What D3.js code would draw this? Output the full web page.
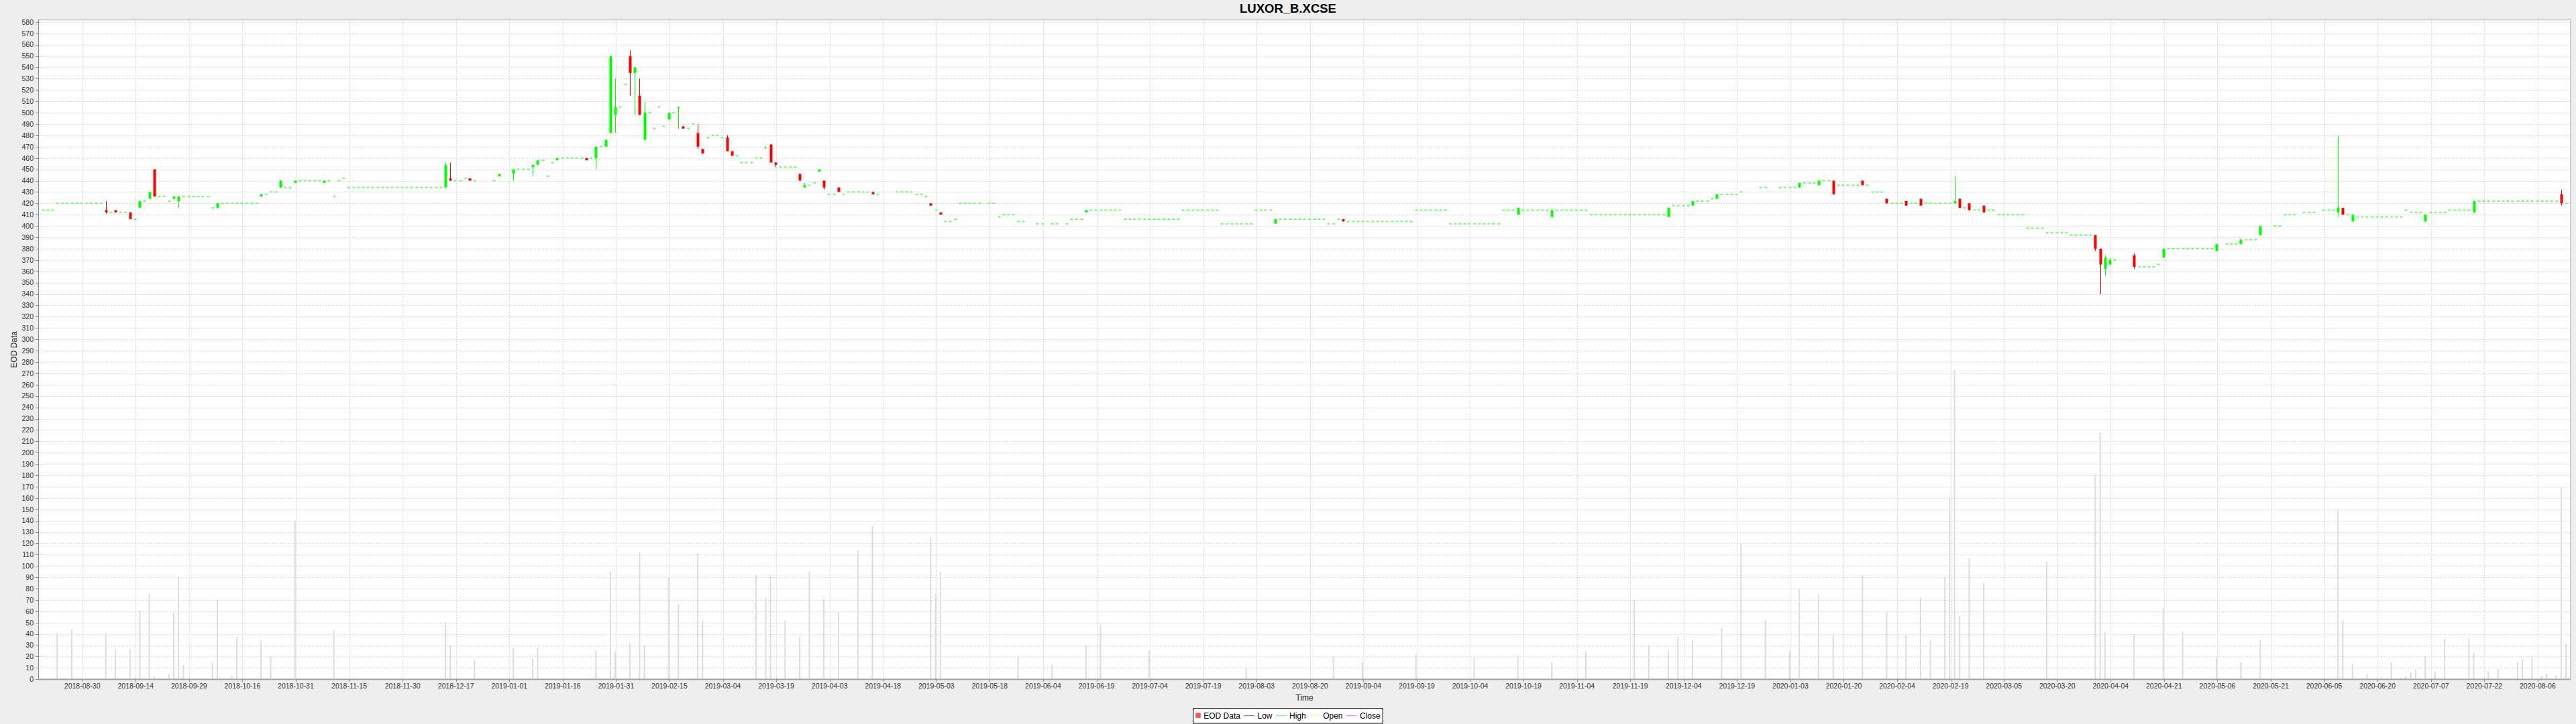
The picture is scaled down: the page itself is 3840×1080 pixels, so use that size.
<!DOCTYPE html>
<html><head><meta charset="utf-8">
<script src="https://cdn.jsdelivr.net/npm/d3@7"></script>
<style>
body{margin:0;background:#eeeeee;}
svg{display:block;font-family:"Liberation Sans",Arial,sans-serif;}
</style></head><body>
<svg id="c" width="3840" height="1080"></svg>
<script>
// ---------------- DATA ----------------
const chartTitle = "LUXOR_B.XCSE";
const startDate = "2018-08-20";           // weekday index 0 (Mon)
// closing price per weekday (Mon..Fri), null = exchange closed
const closes = [
/*2018-08-20*/ 414,414,414,420,420,
/*08-27*/ 420,420,420,420,420,
/*09-03*/ 420,420,420,412,412,
/*09-10*/ 412,412,412,406,406,
/*09-17*/ 422,422,430,426,426,
/*09-24*/ 426,422,426,426,426,
/*10-01*/ 426,426,426,426,426,
/*10-08*/ 416,420,420,420,420,
/*10-15*/ 420,420,420,420,420,
/*10-22*/ 428,428,430,430,440,
/*10-29*/ 434,434,440,440,440,
/*11-05*/ 440,440,440,440,440,
/*11-12*/ 426,440,442,434,434,
/*11-19*/ 434,434,434,434,434,
/*11-26*/ 434,434,434,434,434,
/*12-03*/ 434,434,434,434,434,
/*12-10*/ 434,434,434,454,440,
/*12-17*/ 440,440,442,440,440,
/*12-24*/ null,null,null,440,446,
/*12-31*/ null,null,450,450,450,
/*2019-01-07*/ 450,454,458,458,444,
/*01-14*/ 456,460,460,460,460,
/*01-21*/ 460,460,458,460,470,
/*01-28*/ 470,476,550,505,505,
/*02-04*/ 525,535,540,498,500,
/*02-11*/ 500,486,505,488,500,
/*02-18*/ 500,505,486,486,490,
/*02-25*/ 470,464,478,480,480,
/*03-04*/ 478,466,462,462,456,
/*03-11*/ 456,456,460,460,470,
/*03-18*/ 456,454,452,452,452,
/*03-25*/ 452,440,436,436,438,
/*04-01*/ 450,434,428,428,430,
/*04-08*/ 428,430,430,430,430,
/*04-15*/ 430,428,428,null,null,
/*04-22*/ null,430,430,430,430,
/*04-29*/ 428,428,426,418,414,
/*05-06*/ 410,404,404,406,420,
/*05-13*/ 420,420,420,420,null,
/*05-20*/ 420,420,408,410,410,
/*05-27*/ 410,404,404,null,null,
/*06-03*/ 402,402,null,402,402,
/*06-10*/ null,402,406,406,406,
/*06-17*/ 414,414,414,414,414,
/*06-24*/ 414,414,414,406,406,
/*07-01*/ 406,406,406,406,406,
/*07-08*/ 406,406,406,406,406,
/*07-15*/ 414,414,414,414,414,
/*07-22*/ 414,414,414,402,402,
/*07-29*/ 402,402,402,402,402,
/*08-05*/ 414,414,414,414,406,
/*08-12*/ 406,406,406,406,406,
/*08-19*/ 406,406,406,406,406,
/*08-26*/ 402,402,406,404,404,
/*09-02*/ 404,404,404,404,404,
/*09-09*/ 404,404,404,404,404,
/*09-16*/ 404,404,404,414,414,
/*09-23*/ 414,414,414,414,414,
/*09-30*/ 402,402,402,402,402,
/*10-07*/ 402,402,402,402,402,
/*10-14*/ 402,414,414,414,416,
/*10-21*/ 414,414,414,414,414,
/*10-28*/ 414,414,414,414,414,
/*11-04*/ 414,414,414,414,410,
/*11-11*/ 410,410,410,410,410,
/*11-18*/ 410,410,410,410,410,
/*11-25*/ 410,410,410,410,410,
/*12-02*/ 416,418,418,418,418,
/*12-09*/ 422,422,422,422,424,
/*12-16*/ 428,428,428,428,428,
/*12-23*/ 430,null,null,null,434,
/*12-30*/ 434,null,null,434,434,
/*2020-01-06*/ 434,434,438,438,438,
/*01-13*/ 438,440,440,440,428,
/*01-20*/ 436,436,436,436,436,
/*01-27*/ 436,436,430,430,430,
/*02-03*/ 420,420,420,420,418,
/*02-10*/ 420,420,418,420,420,
/*02-17*/ 420,420,420,420,422,
/*02-24*/ 416,416,414,414,414,
/*03-02*/ 412,414,414,410,410,
/*03-09*/ 410,410,410,410,398,
/*03-16*/ 398,398,398,394,394,
/*03-23*/ 394,394,394,392,392,
/*03-30*/ 392,392,392,380,366,
/*04-06*/ 372,370,370,null,null,
/*04-13*/ null,364,364,364,364,
/*04-20*/ 364,366,380,380,380,
/*04-27*/ 380,380,380,380,380,
/*05-04*/ 380,380,380,384,null,
/*05-11*/ 384,384,384,388,388,
/*05-18*/ 388,388,400,null,null,
/*05-25*/ 400,400,410,410,410,
/*06-01*/ null,412,412,412,null,
/*06-08*/ 414,414,414,416,410,
/*06-15*/ 410,410,408,408,408,
/*06-22*/ 408,408,408,408,408,
/*06-29*/ 408,408,414,412,412,
/*07-06*/ 412,410,412,412,412,
/*07-13*/ 412,414,414,414,414,
/*07-20*/ 414,422,422,422,422,
/*07-27*/ 422,422,422,422,422,
/*08-03*/ 422,422,422,422,422,
/*08-10*/ 422,422,422,422,420,
/*08-17*/ 420
];
// [weekday index, open, high, low] for days that were not flat
const moves = [
[13,414,422,411],[15,414,414,412],[18,412,412,406],[20,416,422,416],[22,424,430,424],
[23,450,450,426],[27,424,426,424],[28,422,426,416],[36,416,420,416],[45,426,428,426],
[49,434,440,434],[52,438,440,438],[58,438,440,438],[83,434,456,434],[84,442,456,440],
[88,442,442,440],[94,444,446,444],[97,446,450,440],[101,452,454,444],[102,454,458,454],
[106,458,460,458],[112,460,460,458],[114,460,470,450],[116,470,476,470],[117,482,550,482],
[118,498,530,482],[121,550,555,515],[122,535,540,498],[123,515,530,498],[124,476,510,476],
[129,494,500,494],[131,504,505,486],[132,488,488,486],[135,482,490,468],[136,468,468,464],
[141,478,480,466],[142,466,466,462],[149,469.5,470,468],[150,472,472,456],[151,456,456,452],
[156,446,446,440],[157,434,438,434],[160,448,450,448],[161,440,440,432],[164,434,434,430],
[171,430,430,428],[183,420,420,418],[185,412,412,410],[215,412,414,412],[254,402,406,402],
[268,406,406,404],
[304,410,416,410],[311,408,414,408],[335,408,416,408],[340,418,422,418],[345,424,428,424],
[362,434,438,434],[366,436,440,436],[369,440,440,428],[375,440,440,436],[380,424,424,420],
[384,422,422,418],[387,424,424,418],[394,420,444,420],[395,424,424,416],[397,420,420,414],
[400,418,418,412],[423,392,392,378],[424,380,380,340],[425,362,374,356],[426,366,372,366],
[431,374,376,362],[437,372,380,372],[448,378,384,378],[453,384,388,384],[457,392,400,392],
[473,412,480,408],[474,416,416,410],[476,404,410,404],[491,404,410,404],[501,412,422,412],
[519,428,432,418]
];
// [weekday index, traded volume]
const volumes = [
[3,40.8],[6,44],[13,40.8],[15,26],[18,26.4],[20,60],[22,75],[23,2.4],[26,4.5],[27,58.6],
[28,91.3],[29,12.8],[35,15],[36,70.4],[39,3.4],[40,37],[45,34.3],[47,20],[52,140],[60,43],
[83,50],[84,30],[89,17],[97,28],[101,18],[102,28],[114,25],[117,95],[118,24],[121,32],
[123,112],[124,30],[129,90],[131,66],[135,111],[136,52],[147,92],[149,72],[150,92],[153,52],
[156,37],[158,95],[161,71],[164,60],[168,114],[171,135],[183,125],[184,75],[185,95],
[201,20],[208,13],[215,30],[218,48],[228,25],[248,10],[266,20],[272,15],[283,22],[295,20],
[304,20],[311,15],[318,25],[328,70],[331,30],[335,25],[337,37],[340,35],[346,45],[350,120],
[355,52],[360,25],[362,80],[366,75],[369,39],[375,92],[380,59],[384,39],[387,72],[389,34],
[392,90],[393,160],[394,273],[395,56],[397,107],[400,85],[413,104],[423,180],[424,218],
[425,42],[431,40],[437,63],[441,42],[448,20],[453,15],[457,35],[473,150],[474,52],
[476,13.4],[479,4.5],[482,2],[483,1],[484,14.8],[485,0.8],[486,1.2],[487,2.8],[488,6.1],
[489,9],[491,20.3],[493,6.9],[495,35.5],[500,35.5],[501,23.3],[504,6.9],[506,9.1],[510,15],
[511,17.8],[513,19.1],[515,3.2],[516,4.9],[518,3.6],[519,170],[520,31.6]
];
const xTickLabels = ["2018-08-30","2018-09-14","2018-09-29","2018-10-16","2018-10-31","2018-11-15",
"2018-11-30","2018-12-17","2019-01-01","2019-01-16","2019-01-31","2019-02-15","2019-03-04",
"2019-03-19","2019-04-03","2019-04-18","2019-05-03","2019-05-18","2019-06-04","2019-06-19",
"2019-07-04","2019-07-19","2019-08-03","2019-08-20","2019-09-04","2019-09-19","2019-10-04",
"2019-10-19","2019-11-04","2019-11-19","2019-12-04","2019-12-19","2020-01-03","2020-01-20",
"2020-02-04","2020-02-19","2020-03-05","2020-03-20","2020-04-04","2020-04-21","2020-05-06",
"2020-05-21","2020-06-05","2020-06-20","2020-07-07","2020-07-22","2020-08-06"];
const firstTickIndex = 8.17;   // weekday position of the first date tick
const tickStep = 11;           // weekdays between date ticks
const yTickValues = d3.range(0, 581, 10);
const legendItems = [
  {label:"EOD Data", type:"box",  color:"#ff5555"},
  {label:"Low",      type:"line", color:"#5555ff"},
  {label:"High",     type:"line", color:"#55ff55"},
  {label:"Open",     type:"line", color:"#ffff55"},
  {label:"Close",    type:"line", color:"#ff55ff"}
];

// ---------------- LAYOUT ----------------
const W = 3840, H = 1080;
const P = {left:57, right:3832.3, top:29.3, bottom:1013.3};
const UP = "#00ff00", DOWN = "#ff0000", FLAT = "#66ff66";

const svg = d3.select("#c");
svg.append("rect").attr("width", W).attr("height", H).attr("fill", "#eeeeee");

const x = d3.scaleLinear().domain([-0.91, 521.0]).range([P.left, P.right]);
const y = d3.scaleLinear().domain([0, 582.1]).range([P.bottom, P.top]);

svg.append("rect").attr("x", P.left).attr("y", P.top)
  .attr("width", P.right - P.left).attr("height", P.bottom - P.top).attr("fill", "#ffffff");

const tickPositions = xTickLabels.map((s, k) => x(firstTickIndex + k * tickStep));

// grid
const grid = svg.append("g").attr("stroke", "#d4d4d4").attr("stroke-width", 1).attr("stroke-dasharray", "2,2");
grid.selectAll("line.h").data(yTickValues.filter(v => v > 0)).join("line")
  .attr("x1", P.left).attr("x2", P.right)
  .attr("y1", d => Math.round(y(d)) + 0.5).attr("y2", d => Math.round(y(d)) + 0.5);
grid.selectAll("line.v").data(tickPositions).join("line")
  .attr("y1", P.top).attr("y2", P.bottom)
  .attr("x1", d => Math.round(d) + 0.5).attr("x2", d => Math.round(d) + 0.5);

// data assembly
const moveMap = new Map(moves.map(m => [m[0], m]));
const days = [];
closes.forEach((c, i) => {
  if (c === null) return;
  const m = moveMap.get(i);
  days.push({i, c, o: m ? m[1] : c, h: m ? m[2] : c, l: m ? m[3] : c});
});

// volume bars
svg.append("g").selectAll("rect").data(volumes).join("rect")
  .attr("x", d => x(d[0]) - 1).attr("width", 2)
  .attr("y", d => y(d[1])).attr("height", d => y(0) - y(d[1]))
  .attr("fill", "#dcdcdc");

// candles
const cg = svg.append("g");
const colorOf = d => d.c > d.o ? UP : (d.c < d.o ? DOWN : UP);
cg.selectAll("line.w").data(days.filter(d => d.h !== d.l)).join("line")
  .attr("x1", d => Math.round(x(d.i)) + 0.5).attr("x2", d => Math.round(x(d.i)) + 0.5)
  .attr("y1", d => y(d.h)).attr("y2", d => y(d.l))
  .attr("stroke", colorOf).attr("stroke-width", 1);
cg.selectAll("rect.b").data(days).join("rect")
  .attr("x", d => Math.round(x(d.i)) - 1.5).attr("width", 4)
  .attr("y", d => d.o === d.c ? y(d.c) - 1 : y(Math.max(d.o, d.c)))
  .attr("height", d => d.o === d.c ? 2 : Math.max(1, y(Math.min(d.o, d.c)) - y(Math.max(d.o, d.c))))
  .attr("fill", d => d.o === d.c ? FLAT : colorOf(d));

// plot outline & axes
svg.append("rect").attr("x", P.left + 0.5).attr("y", P.top + 0.5)
  .attr("width", P.right - P.left - 1).attr("height", P.bottom - P.top - 1)
  .attr("fill", "none").attr("stroke", "#b0b0b0").attr("stroke-width", 1);
svg.append("line").attr("x1", P.left + 0.5).attr("x2", P.left + 0.5).attr("y1", P.top).attr("y2", P.bottom)
  .attr("stroke", "#8a8a8a");
svg.append("line").attr("x1", P.left).attr("x2", P.right).attr("y1", P.bottom + 0.5).attr("y2", P.bottom + 0.5)
  .attr("stroke", "#8a8a8a");

// y axis ticks + labels
const ya = svg.append("g").attr("font-size", "10.5px").attr("fill", "#333");
ya.selectAll("line").data(yTickValues).join("line")
  .attr("x1", P.left - 4).attr("x2", P.left)
  .attr("y1", d => Math.round(y(d)) + 0.5).attr("y2", d => Math.round(y(d)) + 0.5)
  .attr("stroke", "#8a8a8a");
ya.selectAll("text").data(yTickValues).join("text")
  .attr("x", P.left - 7).attr("y", d => y(d) + 3.8).attr("text-anchor", "end")
  .text(d => d);

// x axis ticks + labels
const xa = svg.append("g").attr("font-size", "10.5px").attr("fill", "#333");
xa.selectAll("line").data(tickPositions).join("line")
  .attr("x1", d => Math.round(d) + 0.5).attr("x2", d => Math.round(d) + 0.5)
  .attr("y1", P.bottom).attr("y2", P.bottom + 4).attr("stroke", "#8a8a8a");
xa.selectAll("text").data(xTickLabels).join("text")
  .attr("x", (d, k) => tickPositions[k]).attr("y", 1027.3).attr("text-anchor", "middle")
  .text(d => d);

// axis titles
svg.append("text").attr("x", (P.left + P.right) / 2).attr("y", 1045).attr("text-anchor", "middle")
  .attr("font-size", "12px").attr("fill", "#222").text("Time");
svg.append("text").attr("transform", `translate(24.5,${(P.top + P.bottom) / 2}) rotate(-90)`)
  .attr("text-anchor", "middle").attr("font-size", "12px").attr("fill", "#222").text("EOD Data");

// title
svg.append("text").attr("x", W / 2).attr("y", 19.3).attr("text-anchor", "middle")
  .attr("font-size", "18.5px").attr("font-weight", "bold").attr("fill", "#000").text(chartTitle);

// legend
const lg = svg.append("g").attr("font-size", "12px");
const box = lg.append("rect").attr("y", 1056.5).attr("height", 22.5).attr("fill", "#fff")
  .attr("stroke", "#000").attr("stroke-width", 1);
let cx = 0;
const items = lg.append("g");
legendItems.forEach((it, k) => {
  const g = items.append("g").attr("transform", `translate(${cx},0)`);
  if (it.type === "box") {
    g.append("rect").attr("x", 0).attr("y", 1063.5).attr("width", 7.5).attr("height", 7.5).attr("fill", it.color);
  } else {
    g.append("line").attr("x1", -1).attr("x2", 15).attr("y1", 1067.7).attr("y2", 1067.7)
      .attr("stroke", it.color).attr("stroke-width", 1);
  }
  const t = g.append("text").attr("x", it.type === "box" ? 12 : 19.5).attr("y", 1071.8).attr("fill", "#000").text(it.label);
  const tw = t.node().getComputedTextLength();
  cx += (it.type === "box" ? 12 : 19.5) + tw + 6;
});
const totalW = cx - 6;
const lx = W / 2 - totalW / 2;
items.attr("transform", `translate(${lx},0)`);
box.attr("x", lx - 3.5).attr("width", totalW + 7);
</script>
</body></html>
